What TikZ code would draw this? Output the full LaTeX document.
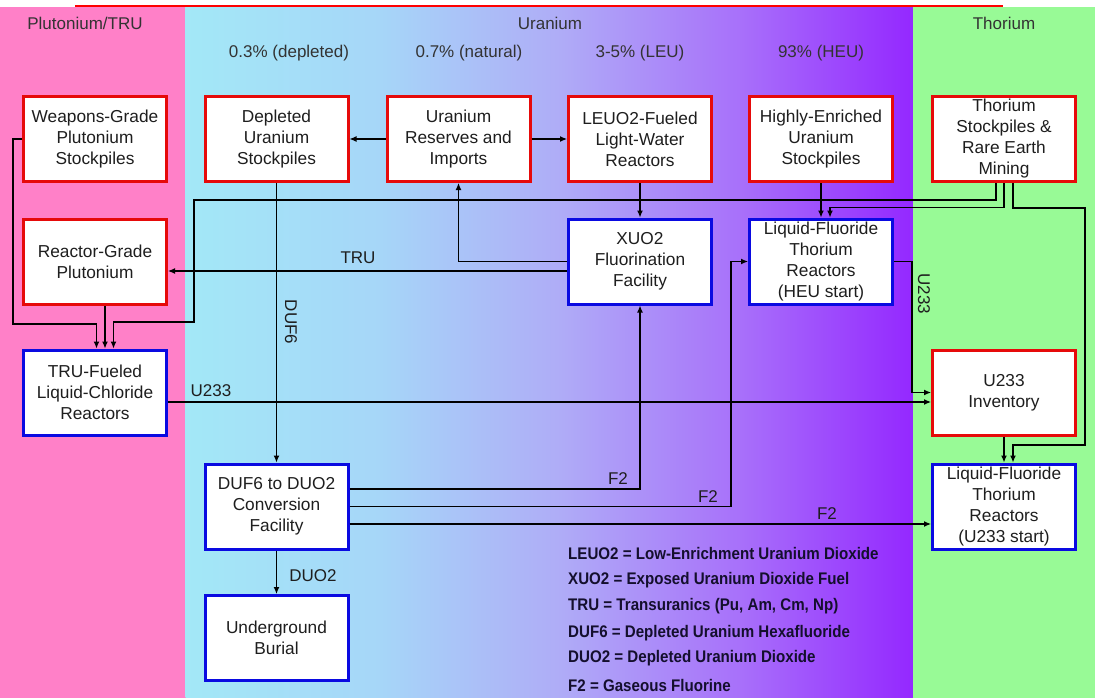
\documentclass[tikz,border=0pt]{standalone}
\usepackage{fontspec}
\setmainfont{Liberation Sans}
\newfontfamily\legfont{Liberation Sans}[FakeStretch=0.9]
\usetikzlibrary{arrows.meta,calc}
\definecolor{pinkbg}{RGB}{255,128,200}
\definecolor{greenbg}{RGB}{152,250,150}
\definecolor{ua}{RGB}{163,232,247}
\definecolor{ub}{RGB}{166,214,248}
\definecolor{uc}{RGB}{175,172,247}
\definecolor{ud}{RGB}{168,112,250}
\definecolor{ue}{RGB}{148,40,255}
\definecolor{boxred}{RGB}{230,10,10}
\definecolor{boxblue}{RGB}{10,10,225}
\definecolor{txt}{RGB}{30,30,30}
\definecolor{legtxt}{RGB}{20,15,45}
\tikzset{
  box/.style={draw, fill=white, line width=3pt, minimum width=143pt, minimum height=85pt,
    inner sep=0.5pt, align=center, font=\fontsize{17.3}{21}\selectfont, text=txt},
  redbox/.style={box, draw=boxred},
  bluebox/.style={box, draw=boxblue},
  arr/.style={line width=1.2pt, -{Latex[length=7pt,width=6pt]}},
  lbl/.style={font=\fontsize{17}{19}\selectfont, text=txt, inner sep=0pt},
  hdr/.style={font=\fontsize{17}{19}\selectfont, text=black!80, inner sep=0pt},
  leg/.style={font=\legfont\bfseries\fontsize{16.8}{19}\selectfont, text=legtxt, anchor=west, inner sep=0pt}
}
\begin{document}
\begin{tikzpicture}[x=1pt,y=-1pt]
\useasboundingbox (0,0) rectangle (1095,698);
% background
\fill[white] (0,0) rectangle (1095,698);
\fill[pinkbg] (0,7) rectangle (186,698);
\shade[left color=ua, right color=ub] (185.5,7) rectangle (380.5,698);
\shade[left color=ub, right color=uc] (380,7) rectangle (560.5,698);
\shade[left color=uc, right color=ud] (560,7) rectangle (740.5,698);
\shade[left color=ud, right color=ue] (740,7) rectangle (913,698);
\fill[greenbg] (913,7) rectangle (1095,698);
\draw[red, line width=2pt] (75,6) -- (1003,6);
% headers
\node[hdr] (h1) at (85,23) {Plutonium/TRU};
\node[hdr] (h2) at (550,23) {Uranium};
\node[hdr] (h3) at (1004,23) {Thorium};
\node[hdr] (s1) at (289,53) {0.3\% (depleted)};
\node[hdr] (s2) at (469,53) {0.7\% (natural)};
\node[hdr] (s3) at (640,53) {3-5\% (LEU)};
\node[hdr] (s4) at (821,53) {93\% (HEU)};
% boxes
\node[redbox] (wg) at (95,139) {Weapons-Grade\\Plutonium\\Stockpiles};
\node[redbox] (du) at (276.5,139) {Depleted\\Uranium\\Stockpiles};
\node[redbox] (ur) at (458.5,139) {Uranium\\Reserves and\\Imports};
\node[redbox] (leu) at (640,139) {LEUO2-Fueled\\Light-Water\\Reactors};
\node[redbox] (heu) at (821,139) {Highly-Enriched\\Uranium\\Stockpiles};
\node[redbox] (th) at (1004,139) {Thorium\\Stockpiles \&\\Rare Earth\\Mining};
\node[redbox] (rg) at (95,261.5) {Reactor-Grade\\Plutonium};
\node[bluebox] (xuo) at (640,261.5) {XUO2\\Fluorination\\Facility};
\node[bluebox] (lfh) at (821,261.5) {Liquid-Fluoride\\Thorium\\Reactors\\(HEU start)};
\node[bluebox] (tru) at (95,392.5) {TRU-Fueled\\Liquid-Chloride\\Reactors};
\node[redbox] (u233) at (1004,392.5) {U233\\Inventory};
\node[bluebox] (duf) at (276.5,506.5) {DUF6 to DUO2\\Conversion\\Facility};
\node[bluebox] (lfu) at (1004,506.5) {Liquid-Fluoride\\Thorium\\Reactors\\(U233 start)};
\node[bluebox] (ubur) at (276.5,638) {Underground\\Burial};
% connectors
\draw[arr] (ur.west) -- (du.east);
\draw[arr] (ur.east) -- (leu.west);
\draw[arr] (du.south) -- (duf.north);
\draw[arr] (leu.south) -- (xuo.north);
\draw[arr] (heu.south) -- (lfh.north);
\draw[arr] (xuo.west) -| (ur.south);
\draw[arr] ([yshift=-9.5pt]xuo.west) -- ([yshift=-9.5pt]rg.east);
\draw[arr] ([yshift=17.5pt]duf.east) -| (xuo.south);
\draw[arr] (duf.east) -| ([xshift=-17pt]lfh.west) -- (lfh.west);
\draw[arr] ([yshift=-17.5pt]duf.east) -- ([yshift=-17.5pt]lfu.west);
\draw[arr] (duf.south) -- (ubur.north);
\draw[arr] (lfh.east) -- ++(18,0) |- (u233.west);
\draw[arr] ([yshift=-9.5pt]tru.east) -- ([yshift=-9.5pt]u233.west);
\draw[arr] (u233.south) -- (lfu.north);
\draw[arr] ([xshift=9pt]th.south) |- (1085,208) |- (1013,445) -- ([xshift=9pt]lfu.north);
\draw[arr] (th.south) |- ([xshift=9pt,yshift=10pt]lfh.north) -- ([xshift=9pt]lfh.north);
\draw[arr] ([xshift=-8pt]th.south) |- (194,200) |- (113.5,322) -- ([xshift=18.5pt]tru.north);
\draw[arr] (wg.west) -- ++(-9,0) |- (96.5,324) -- ([xshift=1.5pt]tru.north);
\draw[arr] ([xshift=10pt]rg.south) -- ([xshift=10pt]tru.north);
% connector labels
\node[lbl] (ltru) at (358,258) {TRU};
\node[lbl] (lu1) at (211,391) {U233};
\node[lbl,rotate=-90] (lu2) at (924,294) {U233};
\node[lbl] (lf1) at (618,479) {F2};
\node[lbl] (lf2) at (708,497) {F2};
\node[lbl] (lf3) at (827,514) {F2};
\node[lbl] (lduo) at (313,576) {DUO2};
\node[lbl,rotate=-90] (lduf) at (291,322) {DUF6};
% legend
\node[leg] (g1) at (568,553) {LEUO2 = Low-Enrichment Uranium Dioxide};
\node[leg] (g2) at (568,580) {XUO2 = Exposed Uranium Dioxide Fuel};
\node[leg] (g3) at (568,606) {TRU = Transuranics (Pu, Am, Cm, Np)};
\node[leg] (g4) at (568,633) {DUF6 = Depleted Uranium Hexafluoride};
\node[leg] (g5) at (568,658) {DUO2 = Depleted Uranium Dioxide};
\node[leg] (g6) at (568,685) {F2 = Gaseous Fluorine};
\end{tikzpicture}
\end{document}
